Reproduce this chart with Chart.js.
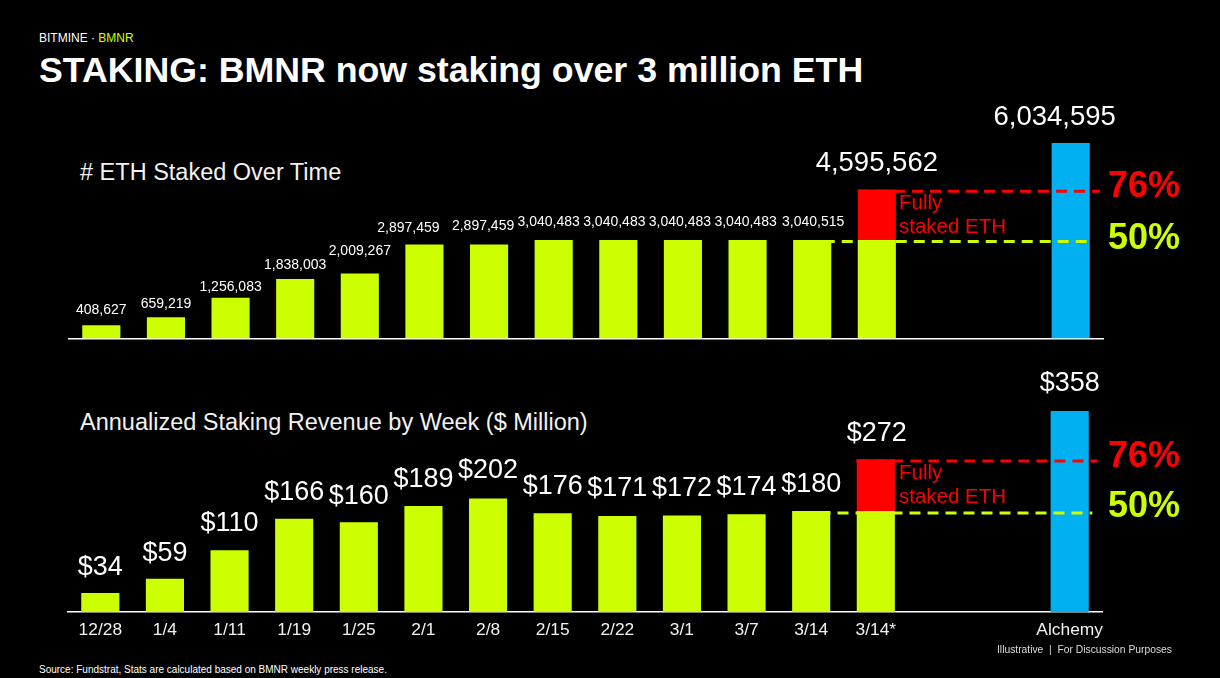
<!DOCTYPE html>
<html>
<head>
<meta charset="utf-8">
<script src="https://cdn.jsdelivr.net/npm/chart.js@4"></script>
<style>
    html, body { margin: 0; padding: 0; background: #000; }
    body { width: 1220px; height: 678px; position: relative; overflow: hidden; color: #fff; font-family: "Liberation Sans", sans-serif; }
    canvas { position: absolute; left: 0; }
    .text { position: absolute; white-space: nowrap; }
    #brand { left: 39px; top: 31px; font-size: 12px; }
    #brand span { color: #CCFF00; }
    #headline { left: 39px; top: 50px; font-size: 35.7px; font-weight: bold; }
    .subtitle { left: 80px; font-size: 23.5px; color: #f2f2f2; }
    #source { left: 39px; top: 664px; font-size: 10px; }
    #note { left: 997px; top: 644px; font-size: 10.3px; color: #ddd; }
</style>
</head>
<body>
<div class="text" id="brand">BITMINE · <span>BMNR</span></div>
<div class="text" id="headline">STAKING: BMNR now staking over 3 million ETH</div>
<div class="text subtitle" style="top:158.5px"># ETH Staked Over Time</div>
<div class="text subtitle" style="top:408.5px">Annualized Staking Revenue by Week ($ Million)</div>
<canvas id="ethChart" width="1220" height="255" style="top:95px"></canvas>
<canvas id="revenueChart" width="1220" height="300" style="top:350px"></canvas>
<div class="text" id="source">Source: Fundstrat, Stats are calculated based on BMNR weekly press release.</div>
<div class="text" id="note">Illustrative &nbsp;|&nbsp; For Discussion Purposes</div>

<script>
const weeks = ['12/28', '1/4', '1/11', '1/19', '1/25', '2/1', '2/8', '2/15', '2/22', '3/1', '3/7', '3/14', '3/14*', '', '', 'Alchemy'];

const ethStaked = [408627, 659219, 1256083, 1838003, 2009267, 2897459, 2897459, 3040483, 3040483, 3040483, 3040483, 3040515, 3040515, null, null, null];
const ethUnstaked = [null, null, null, null, null, null, null, null, null, null, null, null, 1555047, null, null, null];
const ethAlchemy = [null, null, null, null, null, null, null, null, null, null, null, null, null, null, null, 6034595];

const revenueStaked = [34, 59, 110, 166, 160, 189, 202, 176, 171, 172, 174, 180, 180, null, null, null];
const revenueUnstaked = [null, null, null, null, null, null, null, null, null, null, null, null, 92, null, null, null];
const revenueAlchemy = [null, null, null, null, null, null, null, null, null, null, null, null, null, null, null, 358];

const ethFullLine = [{ x: 11.71, y: 4545000 }, { x: 15.45, y: 4545000 }];
const ethHalfLine = [{ x: 10.9, y: 2990000 }, { x: 15.35, y: 2990000 }];
const revenueFullLine = [{ x: 11.7, y: 269 }, { x: 15.43, y: 269 }];
const revenueHalfLine = [{ x: 10.85, y: 176.5 }, { x: 15.35, y: 176.5 }];

const GREEN = '#CCFF00';
const RED = '#FF0000';
const BLUE = '#00B0F0';

// Beschriftungen direkt ueber die Balken schreiben
const barLabels = {
    id: 'barLabels',
    afterDatasetsDraw(chart, args, opts) {
        const ctx = chart.ctx;
        const y = chart.scales.y;
        const x = chart.scales.x;
        ctx.save();
        ctx.textAlign = 'center';
        ctx.textBaseline = 'middle';
        ctx.fillStyle = '#fff';
        opts.totals.forEach((total, i) => {
            if (total === null) return;
            const big = i >= 12;
            ctx.font = `${big ? opts.bigSize : opts.size}px "Liberation Sans"`;
            ctx.fillText(opts.format(total), x.getPixelForValue(i) + (opts.dx[i] || 0), y.getPixelForValue(total) - opts.dy[i]);
        });

        // Prozent-Marken und Hinweis rechts
        ctx.textAlign = 'left';
        ctx.font = 'bold 36px "Liberation Sans"';
        ctx.fillStyle = RED;
        ctx.fillText('76%', 1108, y.getPixelForValue(opts.full) - opts.pctLift[0]);
        ctx.fillStyle = GREEN;
        ctx.fillText('50%', 1108, y.getPixelForValue(opts.half) - opts.pctLift[1]);
        ctx.font = '20.5px "Liberation Sans"';
        ctx.fillStyle = RED;
        ctx.fillText('Fully', 899, y.getPixelForValue(opts.full) + opts.noteGap);
        ctx.fillText('staked ETH', 899, y.getPixelForValue(opts.full) + opts.noteGap + 24);
        ctx.restore();
    }
};

function createChart(canvasId, cfg) {
    const total = cfg.staked.map((v, i) => (v === null && cfg.alchemy[i] === null) ? null : (v || 0) + (cfg.unstaked[i] || 0) + (cfg.alchemy[i] || 0));
    const bar = (data, color) => ({ data: data, backgroundColor: color, stack: 'bars', order: 2, grouped: false, barPercentage: 0.59, categoryPercentage: 1 });
    const guide = (data, color, key) => ({
        type: 'line', data: data, xAxisID: 'xLine', stack: key, order: 1,
        borderColor: color, borderWidth: 3, borderDash: [11, 7], pointRadius: 0, fill: false
    });

    return new Chart(document.getElementById(canvasId), {
        type: 'bar',
        data: {
            labels: weeks,
            datasets: [
                bar(cfg.staked, GREEN),
                bar(cfg.unstaked, RED),
                bar(cfg.alchemy, BLUE),
                guide(cfg.fullLine, RED, 'full'),
                guide(cfg.halfLine, GREEN, 'half')
            ]
        },
        options: {
            responsive: false,
            animation: false,
            layout: { padding: cfg.padding },
            scales: {
                x: {
                    stacked: true,
                    grid: { display: false },
                    border: { color: '#fff', width: 1.5 },
                    ticks: { display: cfg.showTicks, color: '#f2f2f2', font: { size: 17.4, family: 'Liberation Sans' }, padding: 0, maxRotation: 0, autoSkip: false },
                    afterFit: scale => { scale.height = cfg.axisHeight; }
                },
                xLine: {
                    type: 'linear', position: 'top', min: -0.5, max: 15.5, offset: false,
                    grid: { display: false }, border: { display: false }, ticks: { display: false },
                    afterFit: scale => { scale.height = 0; }
                },
                y: { stacked: true, display: false, min: 0, max: cfg.yMax }
            },
            plugins: {
                legend: { display: false },
                tooltip: { enabled: false },
                barLabels: {
                    totals: total, format: cfg.format, size: cfg.size, bigSize: cfg.bigSize,
                    dx: cfg.dx, dy: cfg.dy, full: cfg.fullLine[0].y, half: cfg.halfLine[0].y,
                    noteGap: cfg.noteGap, pctLift: cfg.pctLift
                }
            }
        },
        plugins: [barLabels]
    });
}

createChart('ethChart', {
    staked: ethStaked, unstaked: ethUnstaked, alchemy: ethAlchemy,
    fullLine: ethFullLine, halfLine: ethHalfLine,
    yMax: 7000000, showTicks: false, axisHeight: 11.5,
    padding: { left: 69, right: 117, top: 16.7, bottom: 0 },
    format: v => v.toLocaleString('en-US'), size: 14, bigSize: 27.5, noteGap: 12, pctLift: [4, 3],
    dx: [0, 0, 0, 0, 0, -16, -6, -5, -4, -3, -2, 1, 0, 0, 0, -16],
    dy: [15, 13, 11, 14, 22, 16, 18, 18, 18, 18, 18, 18, 26, 0, 0, 26]
});

createChart('revenueChart', {
    staked: revenueStaked, unstaked: revenueUnstaked, alchemy: revenueAlchemy,
    fullLine: revenueFullLine, halfLine: revenueHalfLine,
    yMax: 400, showTicks: true, axisHeight: 38,
    padding: { left: 68, right: 118, top: 37.4, bottom: 0 },
    format: v => '$' + v, size: 27, bigSize: 27, noteGap: 12, pctLift: [4, 6],
    dx: [0, 0, 0, 0, 0, 0, 0, 0, 0, 0, 0, 0, 1, 0, 0, 0],
    dy: [25, 25, 27, 26, 26, 26, 28, 27, 27, 27, 27, 26, 26, 0, 0, 27]
});
</script>
</body>
</html>
